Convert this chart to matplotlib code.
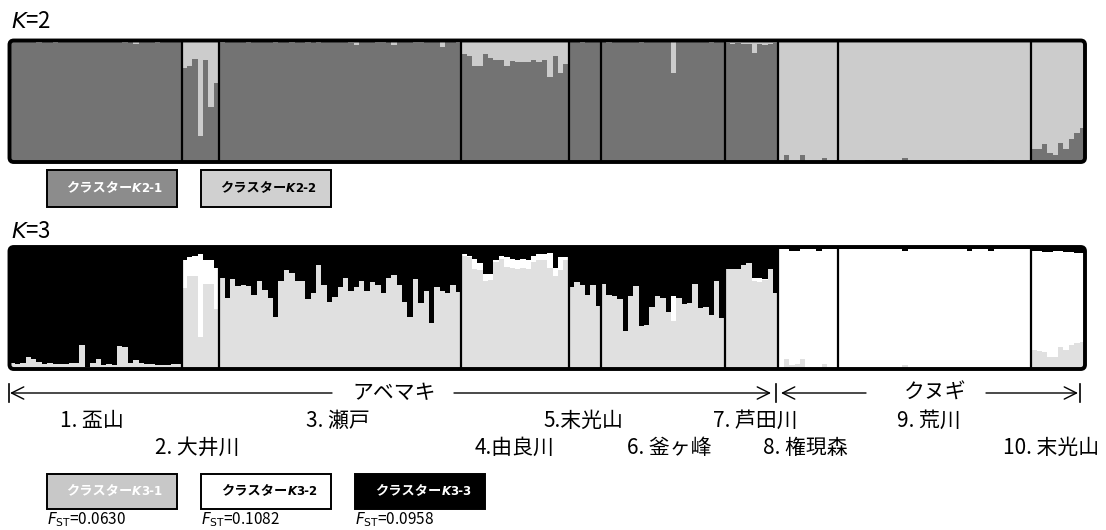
import numpy as np
import matplotlib
matplotlib.use("Agg")
import matplotlib.pyplot as plt
from matplotlib.patches import Rectangle, FancyBboxPatch
from matplotlib.lines import Line2D

plt.rcParams['font.family'] = ['Noto Sans CJK JP', 'DejaVu Sans']
plt.rcParams['mathtext.fontset'] = 'dejavusans'

# ---- populations -------------------------------------------------------
pop_names = ["1. 盃山", "2. 大井川", "3. 瀬戸", "4.由良川", "5.末光山",
             "6. 釜ヶ峰", "7. 芦田川", "8. 権現森", "9. 荒川", "10. 末光山"]
pop_sizes = [32, 7, 45, 20, 6, 23, 10, 11, 36, 10]

# ---- K=2 : membership in cluster K2-1 (rest is K2-2) -------------------
k2_c1_p1 = [0.99, 0.99, 0.99, 0.99, 0.99, 0.98, 0.99, 0.99, 0.98, 0.99, 0.99,
            0.99, 0.99, 0.99, 0.99, 0.99, 0.99, 0.99, 0.99, 0.99, 0.99, 0.98,
            0.99, 0.97, 0.99, 0.99, 0.99, 0.98, 0.99, 0.99, 0.99, 0.99]
k2_c1_p2 = [0.77, 0.79, 0.85, 0.21, 0.84, 0.45, 0.65]
k2_c1_p3 = [0.98, 0.99, 0.99, 0.99, 0.99, 0.98, 0.99, 0.99, 0.99, 0.99, 0.98,
            0.99, 0.99, 0.98, 0.99, 0.99, 0.98, 0.99, 0.98, 0.99, 0.99, 0.99,
            0.99, 0.99, 0.98, 0.96, 0.99, 0.99, 0.99, 0.98, 0.98, 0.99, 0.96,
            0.99, 0.99, 0.99, 0.98, 0.98, 0.99, 0.99, 0.99, 0.95, 0.99, 0.99,
            0.98]
k2_c1_p4 = [0.89, 0.87, 0.79, 0.79, 0.89, 0.86, 0.84, 0.84, 0.79, 0.83, 0.82,
            0.82, 0.82, 0.84, 0.82, 0.84, 0.70, 0.87, 0.73, 0.81]
k2_c1_p5 = [0.99, 0.99, 0.98, 0.99, 0.99, 0.99]
k2_c1_p6 = [0.99, 0.98, 0.99, 0.99, 0.99, 0.99, 0.99, 0.98, 0.99, 0.99, 0.99,
            0.99, 0.99, 0.73, 0.99, 0.99, 0.99, 0.99, 0.99, 0.99, 0.98, 0.99,
            0.99]
k2_c1_p7 = [0.98, 0.97, 0.98, 0.97, 0.97, 0.90, 0.97, 0.96, 0.97, 0.98]
k2_c1_p8 = [0.01, 0.06, 0.01, 0.01, 0.06, 0.01, 0.01, 0.01, 0.03, 0.01, 0.01]
k2_c1_p9 = [0.01, 0.01, 0.01, 0.01, 0.01, 0.015, 0.01, 0.01, 0.01, 0.01, 0.01,
            0.01, 0.03, 0.01, 0.01, 0.01, 0.01, 0.01, 0.01, 0.01, 0.01, 0.01,
            0.01, 0.01, 0.015, 0.01, 0.01, 0.01, 0.015, 0.01, 0.01, 0.01, 0.01,
            0.01, 0.01, 0.01]
k2_c1_p10 = [0.11, 0.11, 0.15, 0.07, 0.06, 0.16, 0.11, 0.19, 0.24, 0.28]

# ---- K=3 : membership in K3-1 (grey) and K3-2 (white); rest is K3-3 ----
k3_c1_p1 = [0.05, 0.04, 0.05, 0.10, 0.08, 0.06, 0.04, 0.05, 0.04, 0.04, 0.04,
            0.05, 0.05, 0.20, 0.02, 0.05, 0.08, 0.03, 0.04, 0.03, 0.19, 0.18,
            0.05, 0.07, 0.05, 0.04, 0.04, 0.03, 0.03, 0.03, 0.04, 0.04]
k3_c2_p1 = [0.0] * 32
k3_c1_p2 = [0.66, 0.76, 0.76, 0.26, 0.70, 0.70, 0.49]
k3_c2_p2 = [0.23, 0.16, 0.17, 0.68, 0.19, 0.19, 0.34]
k3_c1_p3 = [0.75, 0.58, 0.74, 0.68, 0.69, 0.68, 0.61, 0.72, 0.65, 0.58, 0.43,
            0.72, 0.81, 0.79, 0.72, 0.72, 0.57, 0.62, 0.85, 0.69, 0.55, 0.59,
            0.67, 0.75, 0.64, 0.67, 0.72, 0.64, 0.71, 0.69, 0.62, 0.75, 0.77,
            0.69, 0.55, 0.43, 0.74, 0.54, 0.64, 0.38, 0.67, 0.64, 0.62, 0.69,
            0.63]
k3_c2_p3 = [0.0] * 45
k3_c1_p4 = [0.93, 0.92, 0.82, 0.81, 0.72, 0.73, 0.875, 0.90, 0.835, 0.83, 0.82,
            0.83, 0.82, 0.875, 0.89, 0.89, 0.83, 0.76, 0.81, 0.89]
k3_c2_p4 = [0.01, 0.01, 0.08, 0.06, 0.06, 0.05, 0.015, 0.03, 0.085, 0.07, 0.07,
            0.07, 0.07, 0.055, 0.05, 0.05, 0.12, 0.07, 0.11, 0.03]
k3_c1_p5 = [0.67, 0.71, 0.69, 0.61, 0.69, 0.52]
k3_c2_p5 = [0.0] * 6
k3_c1_p6 = [0.70, 0.61, 0.60, 0.57, 0.31, 0.60, 0.68, 0.35, 0.36, 0.51, 0.60,
            0.58, 0.47, 0.39, 0.58, 0.53, 0.54, 0.70, 0.50, 0.51, 0.44, 0.72,
            0.42]
k3_c2_p6 = [0.0] * 13 + [0.21] + [0.0] * 9
k3_c1_p7 = [0.82, 0.82, 0.82, 0.85, 0.87, 0.72, 0.71, 0.73, 0.82, 0.62]
k3_c2_p7 = [0.0, 0.0, 0.0, 0.0, 0.0, 0.03, 0.04, 0.01, 0.0, 0.0]
k3_c1_p8 = [0.01, 0.08, 0.03, 0.04, 0.08, 0.02, 0.01, 0.01, 0.04, 0.02, 0.01]
k3_c2_p8 = [0.97, 0.90, 0.94, 0.93, 0.90, 0.96, 0.97, 0.96, 0.94, 0.96, 0.97]
k3_c1_p9 = [0.01] * 12 + [0.03] + [0.01] * 23
k3_c2_p9 = [0.975] * 12 + [0.94] + [0.975] * 11 + [0.96] + [0.975] * 3 + \
           [0.96] + [0.975] * 7
k3_c1_p10 = [0.155, 0.146, 0.14, 0.10, 0.10, 0.18, 0.155, 0.20, 0.21, 0.225]
k3_c2_p10 = [0.815, 0.824, 0.82, 0.86, 0.87, 0.79, 0.805, 0.76, 0.74, 0.725]

k2_c1 = np.concatenate([k2_c1_p1, k2_c1_p2, k2_c1_p3, k2_c1_p4, k2_c1_p5,
                        k2_c1_p6, k2_c1_p7, k2_c1_p8, k2_c1_p9, k2_c1_p10])
k3_c1 = np.concatenate([k3_c1_p1, k3_c1_p2, k3_c1_p3, k3_c1_p4, k3_c1_p5,
                        k3_c1_p6, k3_c1_p7, k3_c1_p8, k3_c1_p9, k3_c1_p10])
k3_c2 = np.concatenate([k3_c2_p1, k3_c2_p2, k3_c2_p3, k3_c2_p4, k3_c2_p5,
                        k3_c2_p6, k3_c2_p7, k3_c2_p8, k3_c2_p9, k3_c2_p10])

fst_values = ["0.0630", "0.1082", "0.0958"]

# ---- figure -------------------------------------------------------------
W, H = 1106, 530
fig = plt.figure(figsize=(W / 100, H / 100), dpi=100)
fig.patch.set_facecolor('white')


def pix_axes(x0, y0, x1, y1):
    return fig.add_axes([x0 / W, 1 - y1 / H, (x1 - x0) / W, (y1 - y0) / H])


n = len(k2_c1)
idx = np.arange(n)
bounds = np.cumsum(pop_sizes)[:-1] - 0.5


def structure_panel(ax, layers):
    frame = FancyBboxPatch((0, 0), 1, 1,
                           boxstyle="round,pad=0,rounding_size=0.004",
                           mutation_aspect=1076 / 122, transform=ax.transAxes,
                           fill=False, ec='black', lw=2.8, clip_on=False,
                           zorder=5)
    bottom = np.zeros(n)
    for vals, col in layers:
        bars = ax.bar(idx, vals, width=1.0, bottom=bottom, color=col,
                      linewidth=0, align='center')
        for b in bars:
            b.set_clip_path(frame)
        bottom = bottom + vals
    ax.vlines(bounds, 0, 1, colors='black', lw=1.6, zorder=4)
    ax.add_patch(frame)
    ax.set_xlim(-0.5, n - 0.5)
    ax.set_ylim(0, 1)
    ax.set_xticks([])
    ax.set_yticks([])
    for s in ax.spines.values():
        s.set_visible(False)


ax2 = pix_axes(9.5, 40.5, 1085, 162)
structure_panel(ax2, [(k2_c1, '#737373'), (1 - k2_c1, '#cccccc')])

ax3 = pix_axes(9.5, 247, 1085, 369)
structure_panel(ax3, [(k3_c1, '#e0e0e0'), (k3_c2, '#ffffff'),
                      (1 - k3_c1 - k3_c2, '#000000')])

# overlay in pixel coordinates for labels, legends and arrows
ov = fig.add_axes([0, 0, 1, 1], facecolor='none')
ov.set_xlim(0, W)
ov.set_ylim(H, 0)
ov.axis('off')

ov.text(11, 22, r'$\mathit{K}$=2', fontsize=16, va='center', ha='left')
ov.text(11, 231, r'$\mathit{K}$=3', fontsize=16, va='center', ha='left')


def cluster_box(x0, y0, x1, y1, face, tcolor, tag, tx):
    ov.add_patch(Rectangle((x0, y0), x1 - x0, y1 - y0, facecolor=face,
                           edgecolor='black', lw=1.4))
    yc = (y0 + y1) / 2
    t1 = ov.text(tx, yc, "クラスター", fontsize=9.5, weight='bold',
                 color=tcolor, va='center', ha='left')
    t2 = ov.annotate("K", xy=(1, 0.5), xycoords=t1, va='center', ha='left',
                     fontsize=8.5, weight='bold', style='italic',
                     family='DejaVu Sans', color=tcolor)
    ov.annotate(tag, xy=(1, 0.5), xycoords=t2, va='center', ha='left',
                fontsize=8.5, weight='bold', family='DejaVu Sans',
                color=tcolor)


cluster_box(47, 170, 177, 207, '#8c8c8c', 'white', "2-1", 66)
cluster_box(201, 170, 331, 207, '#d0d0d0', 'black', "2-2", 220)

cluster_box(47, 474, 177, 509, '#c8c8c8', 'white', "3-1", 66)
cluster_box(201, 474, 331, 509, '#ffffff', 'black', "3-2", 221)
cluster_box(355, 474, 485, 509, '#000000', 'white', "3-3", 375)

for xf, v in zip([47, 201, 355], fst_values):
    ov.text(xf, 520, r'$F_{\mathrm{ST}}$=' + v, fontsize=11,
            va='center', ha='left')

# species arrows
ay = 393
arrow_kw = dict(arrowstyle='->', lw=1.0, color='black', mutation_scale=22,
                shrinkA=0, shrinkB=0)
ov.annotate('', xy=(10, ay), xytext=(332, ay), arrowprops=arrow_kw)
ov.annotate('', xy=(771, ay), xytext=(454, ay), arrowprops=arrow_kw)
ov.annotate('', xy=(781, ay), xytext=(866, ay), arrowprops=arrow_kw)
ov.annotate('', xy=(1078, ay), xytext=(986, ay), arrowprops=arrow_kw)
for xv in [8.5, 776, 1080]:
    ov.add_line(Line2D([xv, xv], [ay - 9, ay + 9], color='black', lw=1.2))
ov.text(394, ay, "アベマキ", fontsize=15, ha='center', va='center')
ov.text(935, ay, "クヌギ", fontsize=15, ha='center', va='center')

# population labels (two staggered rows)
label_x = [60, 155, 306, 475, 543, 627, 713, 763, 897, 1003]
for i, (name, lx) in enumerate(zip(pop_names, label_x)):
    ly = 421 if i % 2 == 0 else 448
    ov.text(lx, ly, name, fontsize=15, ha='left', va='center')

fig.savefig("out.png", dpi=100, facecolor='white')
